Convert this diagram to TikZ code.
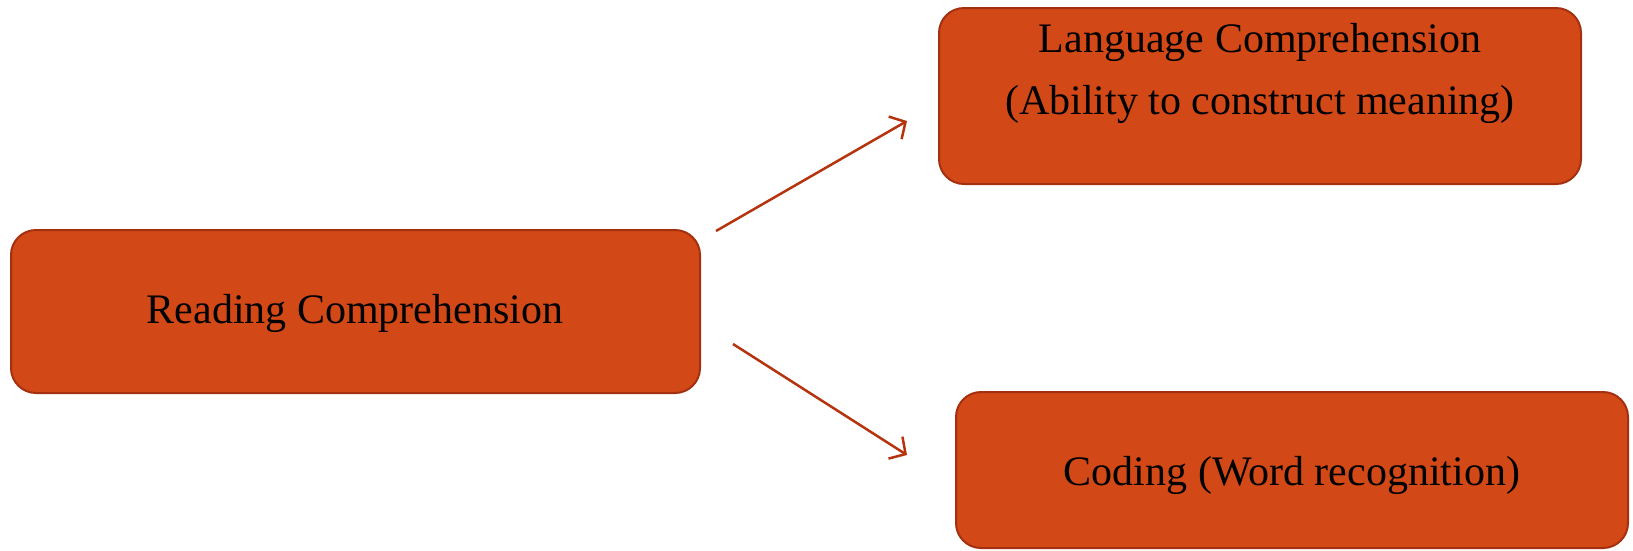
\documentclass[tikz,border=0pt]{standalone}
\usepackage{fontspec}
\setmainfont{Liberation Serif}
\usetikzlibrary{arrows.meta}
\definecolor{boxfill}{HTML}{D24917}
\definecolor{boxline}{HTML}{A53010}
\definecolor{arrowc}{HTML}{B5340E}
\tikzset{
  box/.style={draw=boxline, fill=boxfill, line width=2pt, rounded corners=25pt, inner sep=0pt},
  label/.style={font=\fontsize{42}{62}\selectfont, text=black, align=center},
  conn/.style={draw=arrowc, line width=2.5pt, -{Straight Barb[length=12pt,width=26pt,line width=2.5pt]}}
}
\begin{document}
\begin{tikzpicture}[x=1pt,y=-1pt]
\useasboundingbox (0,0) rectangle (1633,550);
\node[box, minimum width=689pt, minimum height=163pt] (read) at (355.5,311.5) {};
\node[box, minimum width=642pt, minimum height=176pt] (lang) at (1260,96) {};
\node[box, minimum width=672pt, minimum height=156pt] (code) at (1292,470) {};
\node[label] (readt) at (355,313) {Reading Comprehension};
\node[label] (langt) at (1260,73) {Language Comprehension\\(Ability to construct meaning)};
\node[label] (codet) at (1292,475) {Coding (Word recognition)};
\coordinate (a1s) at (716,231);
\coordinate (a1e) at (907,121);
\coordinate (a2s) at (733,344);
\coordinate (a2e) at (907,455);
\draw[conn] (a1s) -- (a1e);
\draw[conn] (a2s) -- (a2e);
\end{tikzpicture}
\end{document}
